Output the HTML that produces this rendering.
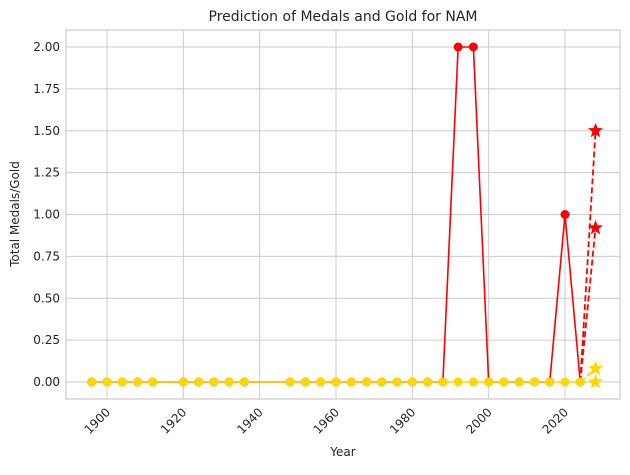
<!DOCTYPE html>
<html><head><meta charset="utf-8"><style>
body{margin:0;background:#fff;font-family:"Liberation Sans","DejaVu Sans",sans-serif}
svg text{font-family:"DejaVu Sans","Liberation Sans",sans-serif;fill:#262626}
</style></head><body>
<svg id="chart" width="630" height="470">
<text x="343" y="21" font-size="14" text-anchor="middle">Prediction of Medals and Gold for NAM</text>
<g id="grid"></g><g id="axes"></g><g id="series"></g>
<text x="343" y="456" font-size="12" text-anchor="middle">Year</text>
<text transform="translate(19,214) rotate(-90)" font-size="12" text-anchor="middle">Total Medals/Gold</text>
</svg>
<script>
const years=[1896,1900,1904,1908,1912,1920,1924,1928,1932,1936,1948,1952,1956,1960,1964,1968,1972,1976,1980,1984,1988,1992,1996,2000,2004,2008,2012,2016,2020,2024];
const totalMedals=[0,0,0,0,0,0,0,0,0,0,0,0,0,0,0,0,0,0,0,0,0,2,2,0,0,0,0,0,1,0];
const goldMedals=[0,0,0,0,0,0,0,0,0,0,0,0,0,0,0,0,0,0,0,0,0,0,0,0,0,0,0,0,0,0];
const predYear=2028;
const predTotal=[1.5,0.92];
const predGold=[0.08,0.0];
const xTicks=[1900,1920,1940,1960,1980,2000,2020];
const yTicks=[0,0.25,0.5,0.75,1,1.25,1.5,1.75,2];
const L=66,R=620,T=30,B=399;
const X=y=>107+(y-1900)*458/120;
const Y=v=>382-v*335/2;
const NS="http://www.w3.org/2000/svg";
function mk(tag,attrs,parent){const e=document.createElementNS(NS,tag);for(const k in attrs)e.setAttribute(k,attrs[k]);parent.appendChild(e);return e;}
const grid=document.getElementById('grid'),axes=document.getElementById('axes'),ser=document.getElementById('series');
mk('rect',{x:L,y:T,width:R-L,height:B-T,fill:'#fff',stroke:'#ccc','stroke-width':1.2},grid);
xTicks.forEach(t=>{const x=X(t);
 const g=mk('line',{x1:x,x2:x,y1:T,y2:B,stroke:'#ccc','stroke-width':1},grid);
 
 const tx=mk('text',{x:0,y:0,'font-size':12,'text-anchor':'end',transform:`translate(${x+4},${B+14}) rotate(-45)`},axes);
 tx.textContent=t;});
yTicks.forEach(t=>{const y=Y(t);
 const g=mk('line',{x1:L,x2:R,y1:y,y2:y,stroke:'#ccc','stroke-width':1},grid);
 
 const tx=mk('text',{x:L-6,y:y+4,'font-size':12,'text-anchor':'end'},axes);
 tx.textContent=t.toFixed(2);});
function star(cx,cy,r,color,name){const p=[];for(let i=0;i<10;i++){const a=-Math.PI/2+i*Math.PI/5,rr=i%2?r*0.42:r;p.push((cx+rr*Math.cos(a)).toFixed(1)+','+(cy+rr*Math.sin(a)).toFixed(1));}
 const s=mk('polygon',{points:p.join(' '),fill:color},ser);}
function series(vals,preds,color,name){
 const pl=mk('polyline',{points:years.map((y,i)=>X(y)+','+Y(vals[i])).join(' '),fill:'none',stroke:color,'stroke-width':1.6},ser);
 
 years.forEach((y,i)=>{const c=mk('circle',{cx:X(y),cy:Y(vals[i]),r:4.5,fill:color},ser);
  });
 const last=years.length-1;
 preds.forEach(p=>{const d=mk('line',{x1:X(years[last]),y1:Y(vals[last]),x2:X(predYear),y2:Y(p),stroke:color,'stroke-width':1.8,'stroke-dasharray':'6,3'},ser);
  
  star(X(predYear),Y(p),8,color,name+'-prediction-star');});
}
series(totalMedals,predTotal,'#ff0000','total-medals');
series(goldMedals,predGold,'#ffd700','gold-medals');
</script>
</body></html>
